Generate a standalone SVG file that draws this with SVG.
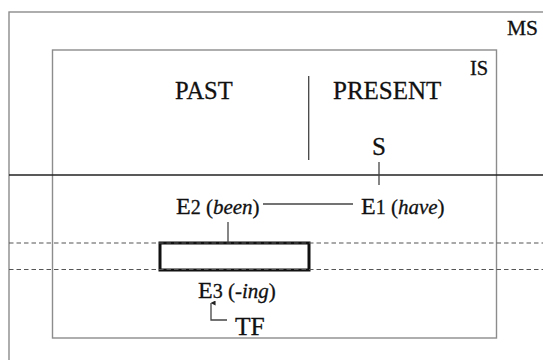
<svg xmlns="http://www.w3.org/2000/svg" width="543" height="360" viewBox="0 0 543 360">
<defs>
<style>
.frame{fill:none;stroke:#8c8c8c;stroke-width:1.4}
.t{font-family:"Liberation Serif","Times New Roman",serif;fill:#111;stroke:#111;stroke-width:0.3}
.it{font-style:italic}
.ln{stroke:#444;stroke-width:1.3;fill:none}
.dash{stroke:#555;stroke-width:1.2;stroke-dasharray:4.5 3;fill:none}
</style>
<marker id="ah" viewBox="0 0 6 6" refX="3" refY="0.5" markerWidth="5" markerHeight="5" orient="auto-start-reverse" markerUnits="userSpaceOnUse">
<path d="M0,6 L3,0 L6,6 Z" fill="#222"/>
</marker>
</defs>
<rect width="543" height="360" fill="#fff"/>
<g id="MS">
<rect class="frame" x="9" y="12" width="560" height="380"/>
<text class="t" x="507" y="35" font-size="21.5">MS</text>
</g>
<g id="IS">
<rect class="frame" x="52.5" y="50" width="444" height="288"/>
<text class="t" x="470" y="75" font-size="20.5">IS</text>
</g>
<g id="PAST"><text class="t" x="175" y="99" font-size="24.5">PAST</text></g>
<g id="PRESENT"><text class="t" x="333" y="99" font-size="25">PRESENT</text></g>
<g id="S"><text class="t" x="379" y="155" font-size="25" text-anchor="middle">S</text></g>
<g id="E2"><text class="t" x="176" y="214"><tspan font-size="24">E</tspan><tspan font-size="20">2</tspan><tspan font-size="21"> (</tspan><tspan font-size="21" class="it">been</tspan><tspan font-size="21">)</tspan></text></g>
<g id="E1"><text class="t" x="361" y="214"><tspan font-size="24">E</tspan><tspan font-size="20">1</tspan><tspan font-size="21"> (</tspan><tspan font-size="21" class="it">have</tspan><tspan font-size="21">)</tspan></text></g>
<g id="E3box"><rect x="160" y="243" width="149" height="27" fill="none" stroke="#111" stroke-width="3"/></g>
<g id="E3"><text class="t" x="198" y="298"><tspan font-size="24">E</tspan><tspan font-size="20">3</tspan><tspan font-size="21"> (-</tspan><tspan font-size="21" class="it">ing</tspan><tspan font-size="21">)</tspan></text></g>
<g id="TF"><text class="t" x="235" y="335" font-size="25.5">TF</text></g>
<g id="connectors">
<line x1="9" y1="175" x2="543" y2="175" stroke="#222" stroke-width="1.3"/>
<line class="ln" x1="308.7" y1="76" x2="308.7" y2="160"/>
<line class="ln" x1="379" y1="162" x2="379" y2="185"/>
<line class="ln" x1="263" y1="204" x2="353" y2="204"/>
<line class="ln" x1="228" y1="222" x2="228" y2="242"/>
<line class="dash" x1="9" y1="243" x2="543" y2="243"/>
<line class="dash" x1="9" y1="269.5" x2="543" y2="269.5"/>
<path class="ln" d="M227,320 L211,320 L211,303" stroke-width="1.2" marker-end="url(#ah)"/>
</g>
</svg>
